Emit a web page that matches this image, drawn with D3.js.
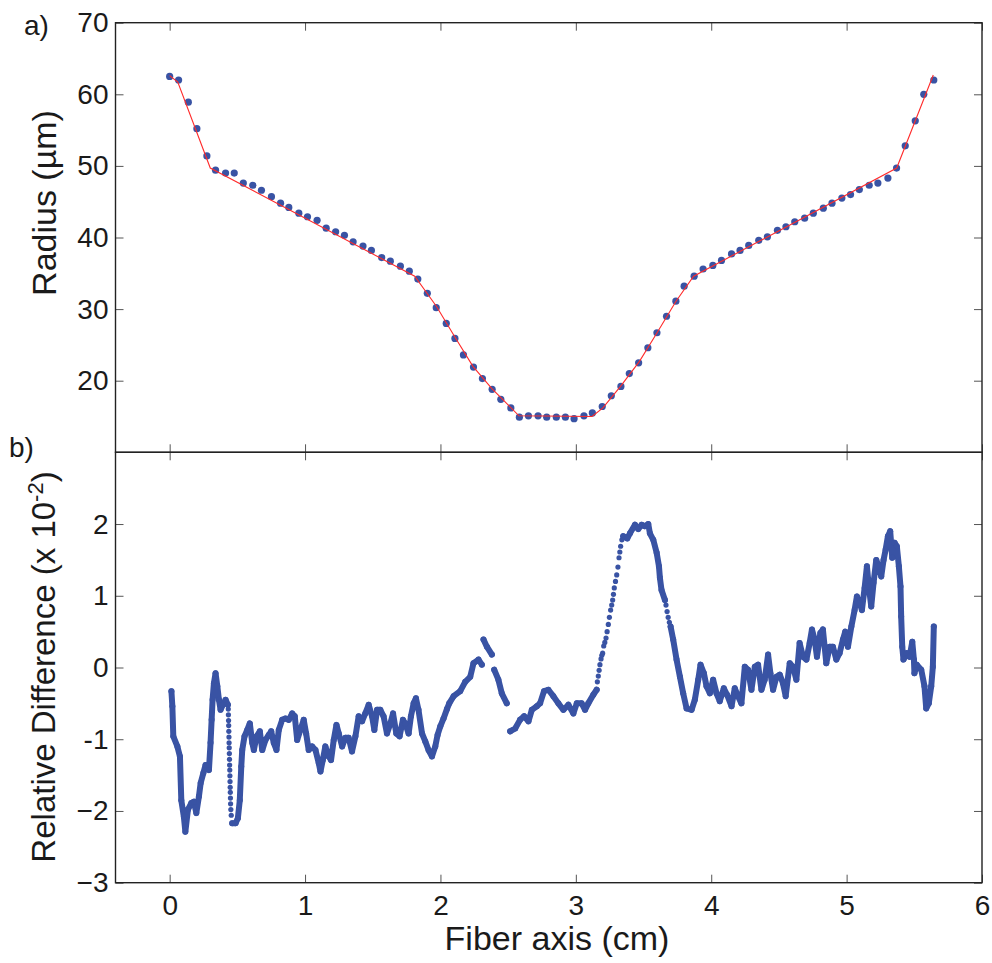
<!DOCTYPE html>
<html><head><meta charset="utf-8">
<script src="https://cdn.jsdelivr.net/npm/d3@7"></script>
<style>
html,body{margin:0;padding:0;background:#fff;}
svg{display:block;}
text{font-family:"Liberation Sans",Arial,Helvetica,sans-serif;fill:#1a1a1a;}
</style></head><body>
<svg id="chart" width="992" height="963"></svg>
<script>
// ---------- data ----------
// panel a) measured radius (dots)
const radiusX = [0.000,0.066,0.138,0.201,0.275,0.339,0.413,0.477,0.544,0.614,
  0.678,0.752,0.819,0.880,0.954,1.018,1.089,1.156,1.226,1.291,
  1.355,1.428,1.490,1.566,1.630,1.704,1.770,1.833,1.903,1.969,
  2.043,2.107,2.170,2.244,2.310,2.382,2.446,2.520,2.583,2.650,
  2.721,2.785,2.856,2.923,2.987,3.060,3.122,3.195,3.262,3.333,
  3.395,3.464,3.532,3.599,3.670,3.739,3.800,3.874,3.940,4.012,
  4.076,4.150,4.213,4.277,4.351,4.415,4.489,4.552,4.617,4.690,
  4.754,4.828,4.892,4.965,5.029,5.094,5.167,5.231,5.305,5.369,
  5.433,5.507,5.570,5.644];
const radiusV = [62.5,62.0,58.9,55.2,51.4,49.4,49.0,49.0,47.6,47.3,
  46.6,45.7,44.8,44.2,43.4,42.9,42.4,41.3,40.8,40.3,
  39.4,38.8,38.2,37.2,36.7,36.0,35.3,34.2,32.2,30.2,
  28.0,25.9,23.6,21.9,20.3,18.8,17.4,16.2,14.9,15.1,
  15.1,14.9,14.9,14.9,14.7,15.1,15.5,16.4,17.9,19.2,
  21.0,22.5,24.6,26.7,29.0,31.1,33.2,34.6,35.6,36.1,
  36.8,37.7,38.2,38.9,39.6,40.1,41.0,41.5,42.2,42.7,
  43.4,44.1,44.8,45.5,46.0,46.7,47.3,47.6,48.3,49.7,
  52.8,56.3,60.0,62.0];
// panel a) target profile (red line)
const fitX = [0,0.06,0.30,1.81,1.97,2.11,2.24,2.38,2.58,3.12,3.20,3.33,3.47,3.60,3.74,3.87,5.37,5.64];
const fitV = [62.6,61.7,49.7,34.6,30.4,26.0,22.0,18.9,15.1,15.0,16.2,19.2,22.7,26.7,31.1,34.6,49.7,62.7];

// panel b) relative difference, dense trace (NaN = break)
const diffX = [0.013,0.020,0.027,0.057,0.076,0.086,0.105,0.116,0.135,0.160,0.179,0.197,0.216,0.229,0.249,0.265,0.290,0.302,0.310,0.317,0.327,0.339,0.352,0.364,0.376,0.393,0.413,0.430,
  NaN,
  0.462,0.487,0.504,0.518,0.529,0.536,0.553,0.573,0.592,0.610,0.622,0.642,0.666,0.684,0.708,0.732,0.750,0.769,0.789,0.806,0.831,0.855,0.880,0.905,0.924,0.942,0.966,0.990,1.008,1.027,1.052,1.077,1.101,1.114,1.131,1.150,1.175,1.192,1.212,1.232,1.249,1.274,1.298,1.322,1.347,1.372,1.396,1.421,1.445,1.470,1.495,1.512,1.532,1.556,1.580,1.605,1.630,1.650,1.674,1.698,1.723,1.740,1.765,1.782,1.802,1.819,1.838,1.864,1.888,1.912,1.937,1.962,1.979,1.999,2.023,2.048,2.065,2.097,2.146,2.183,2.220,2.244,2.281,2.306,
  NaN,
  2.318,2.343,2.380,
  NaN,
  2.397,2.428,2.453,2.490,
  NaN,
  2.515,2.552,2.588,2.618,2.650,2.675,2.712,2.736,2.765,2.797,2.834,2.871,2.908,2.945,2.982,3.007,3.043,3.068,3.092,3.129,3.154,
  NaN,
  3.350,3.380,3.400,3.437,3.461,3.486,3.510,3.535,3.547,3.572,3.597,3.614,3.621,3.633,3.658,
  NaN,
  3.700,3.719,3.744,3.769,3.793,3.818,3.855,3.879,3.904,3.921,3.946,3.965,3.990,4.014,4.039,4.063,4.093,4.117,4.150,4.174,4.198,4.223,4.248,4.272,4.297,4.322,4.346,4.371,4.395,4.420,4.437,4.457,4.482,4.506,4.530,4.550,4.580,4.604,4.629,4.653,4.678,4.703,4.727,4.744,4.764,4.781,4.806,4.825,4.850,4.875,4.899,4.924,4.948,4.973,4.990,5.010,5.035,5.059,5.076,5.096,5.113,5.133,5.150,5.164,5.182,5.199,5.219,5.236,5.256,5.273,5.288,5.305,5.322,5.337,5.354,5.371,5.386,5.398,5.403,5.411,5.420,5.445,5.465,5.485,5.497,5.501,5.518,5.551,5.575,5.588,5.607,5.625,5.637,5.644];
const diffV = [-0.33,-0.54,-0.96,-1.10,-1.24,-1.85,-2.08,-2.29,-1.98,-1.89,-1.87,-2.03,-1.80,-1.61,-1.47,-1.36,-1.43,-1.05,-0.73,-0.45,-0.22,-0.08,-0.26,-0.45,-0.59,-0.52,-0.45,-0.52,
  NaN,
  -2.17,-2.17,-2.10,-1.85,-1.38,-1.15,-0.96,-0.87,-0.78,-1.05,-1.15,-0.96,-0.89,-1.15,-1.01,-0.94,-0.89,-1.05,-1.15,-0.87,-0.73,-0.71,-0.73,-0.64,-0.68,-1.01,-0.87,-0.73,-0.92,-1.15,-1.10,-1.15,-1.33,-1.45,-1.29,-1.10,-1.24,-1.29,-1.01,-0.80,-0.92,-1.10,-0.98,-0.98,-1.17,-0.96,-0.68,-0.75,-0.64,-0.52,-0.68,-0.87,-0.59,-0.59,-0.68,-0.92,-0.78,-0.64,-0.92,-0.96,-0.73,-0.78,-0.92,-0.68,-0.50,-0.43,-0.59,-0.92,-1.03,-1.15,-1.24,-1.10,-0.94,-0.82,-0.71,-0.58,-0.50,-0.40,-0.33,-0.20,-0.13,0.06,0.11,0.04,
  NaN,
  0.39,0.29,0.18,
  NaN,
  -0.03,-0.17,-0.36,-0.50,
  NaN,
  -0.89,-0.85,-0.73,-0.68,-0.75,-0.59,-0.54,-0.50,-0.33,-0.31,-0.40,-0.50,-0.59,-0.52,-0.64,-0.50,-0.50,-0.59,-0.50,-0.38,-0.31,
  NaN,
  1.83,1.80,1.87,1.99,1.93,1.99,1.97,2.00,1.87,1.78,1.60,1.41,1.25,1.08,0.94,
  NaN,
  0.57,0.39,0.11,-0.13,-0.36,-0.57,-0.59,-0.45,-0.17,0.04,-0.08,-0.26,-0.36,-0.17,-0.36,-0.47,-0.29,-0.38,-0.54,-0.29,-0.40,-0.50,0.01,-0.03,-0.31,0.01,0.04,-0.31,-0.17,0.18,-0.08,-0.31,-0.13,-0.10,-0.22,-0.40,0.06,0.01,-0.17,0.34,0.15,0.11,0.34,0.53,0.39,0.15,0.48,0.53,0.06,0.29,0.29,0.11,0.20,0.39,0.50,0.29,0.57,0.80,0.99,0.90,0.80,1.11,1.41,1.13,0.85,1.18,1.50,1.41,1.27,1.50,1.64,1.83,1.90,1.53,1.74,1.69,1.41,1.13,0.71,0.29,0.11,0.20,0.15,0.36,0.11,-0.08,0.04,-0.03,-0.26,-0.57,-0.50,-0.26,0.01,0.57];
// panel b) isolated samples on the steep parts
const sparseX = [0.433,0.434,0.435,0.436,0.437,0.438,0.439,0.440,0.441,0.442,0.443,0.444,0.445,0.446,0.447,0.448,0.449,0.450,0.452,0.455,
  3.159,3.166,3.172,3.178,3.186,3.192,3.198,3.206,3.214,3.223,3.231,3.240,3.248,3.257,3.265,3.272,3.278,3.284,3.293,3.302,3.311,3.319,3.325,3.331,3.340,
  3.666,3.674,3.682,3.691];
const sparseV = [-0.58,-0.66,-0.74,-0.81,-0.89,-0.97,-1.05,-1.12,-1.20,-1.28,-1.36,-1.43,-1.51,-1.59,-1.67,-1.74,-1.82,-1.90,-1.98,-2.06,
  -0.20,-0.12,-0.04,0.04,0.12,0.17,0.20,0.30,0.35,0.41,0.50,0.60,0.70,0.80,0.87,0.94,1.02,1.11,1.20,1.29,1.40,1.53,1.61,1.69,1.78,
  0.87,0.78,0.70,0.63];

const xTicks = [0,1,2,3,4,5,6];
const radiusTicks = [20,30,40,50,60,70];
const diffTicks = [-3,-2,-1,0,1,2];
const diffTickLabels = ["\u22123","\u22122","-1","0","1","2"];

// ---------- layout ----------
const L = 115.5, R = 982, T = 22.7, M = 452.3, B = 882.7;
const blue = "#3953a4", red = "#ff2a2a";
const svg = d3.select("#chart");

const x = d3.scaleLinear().domain([-0.4, 6]).range([L, R]);
const yA = d3.scaleLinear().domain([10, 70]).range([M, T]);
const yB = d3.scaleLinear().domain([-3, 3]).range([B, M]);

function styleAxis(g, labels) {
  g.select(".domain").remove();
  g.selectAll(".tick line").attr("stroke", "#555").attr("stroke-width", 1);
  g.selectAll(".tick text").style("font-size", "28px").attr("fill", "#1a1a1a");
  if (!labels) g.selectAll(".tick text").remove();
}
const TK = 8;
const fmt = d3.format("d");
// panel a axes
svg.append("g").attr("transform", `translate(${L},0)`)
  .call(d3.axisLeft(yA).tickValues(radiusTicks).tickFormat(fmt).tickSize(-TK).tickPadding(7))
  .call(g => styleAxis(g, true));
svg.append("g").attr("transform", `translate(${R},0)`)
  .call(d3.axisRight(yA).tickValues(radiusTicks).tickSize(-TK))
  .call(g => styleAxis(g, false));
svg.append("g").attr("transform", `translate(0,${T})`)
  .call(d3.axisTop(x).tickValues(xTicks).tickSize(-TK))
  .call(g => styleAxis(g, false));
svg.append("g").attr("transform", `translate(0,${M})`)
  .call(d3.axisBottom(x).tickValues(xTicks).tickSize(-TK))
  .call(g => styleAxis(g, false));
// panel b axes
svg.append("g").attr("transform", `translate(${L},0)`)
  .call(d3.axisLeft(yB).tickValues(diffTicks).tickFormat((d, i) => diffTickLabels[i]).tickSize(-TK).tickPadding(7))
  .call(g => styleAxis(g, true));
svg.append("g").attr("transform", `translate(${R},0)`)
  .call(d3.axisRight(yB).tickValues(diffTicks).tickSize(-TK))
  .call(g => styleAxis(g, false));
svg.append("g").attr("transform", `translate(0,${M})`)
  .call(d3.axisTop(x).tickValues(xTicks).tickSize(-TK))
  .call(g => styleAxis(g, false));
svg.append("g").attr("transform", `translate(0,${B})`)
  .call(d3.axisBottom(x).tickValues(xTicks).tickFormat(fmt).tickSize(-TK).tickPadding(12))
  .call(g => styleAxis(g, true));

// frames
svg.append("rect").attr("x", L).attr("y", T).attr("width", R - L).attr("height", M - T)
  .attr("fill", "none").attr("stroke", "#222").attr("stroke-width", 1.4);
svg.append("rect").attr("x", L).attr("y", M).attr("width", R - L).attr("height", B - M)
  .attr("fill", "none").attr("stroke", "#222").attr("stroke-width", 1.4);

// panel a marks
const radius = radiusX.map((d, i) => ({x: d, v: radiusV[i]}));
const fit = fitX.map((d, i) => ({x: d, v: fitV[i]}));
svg.append("g").selectAll("circle").data(radius).join("circle")
  .attr("cx", d => x(d.x)).attr("cy", d => yA(d.v)).attr("r", 3.6).attr("fill", blue);
svg.append("path").datum(fit)
  .attr("d", d3.line().x(d => x(d.x)).y(d => yA(d.v)))
  .attr("fill", "none").attr("stroke", red).attr("stroke-width", 1.1);

// panel b marks
const diff = diffX.map((d, i) => ({x: d, v: diffV[i]}));
svg.append("path").datum(diff)
  .attr("d", d3.line().defined(d => !isNaN(d.v)).x(d => x(d.x)).y(d => yB(d.v)))
  .attr("fill", "none").attr("stroke", blue).attr("stroke-width", 6)
  .attr("stroke-linejoin", "round").attr("stroke-linecap", "round");
svg.append("g").selectAll("circle").data(diff.filter(d => !isNaN(d.v))).join("circle")
  .attr("cx", d => x(d.x)).attr("cy", d => yB(d.v)).attr("r", 3).attr("fill", blue);
const sparse = sparseX.map((d, i) => ({x: d, v: sparseV[i]}));
svg.append("g").selectAll("circle").data(sparse).join("circle")
  .attr("cx", d => x(d.x)).attr("cy", d => yB(d.v)).attr("r", 2.6).attr("fill", blue);

// labels
svg.append("text").attr("x", 24).attr("y", 35).style("font-size", "28px").text("a)");
svg.append("text").attr("x", 9).attr("y", 457).style("font-size", "28px").text("b)");
svg.append("text").attr("transform", "translate(56,203) rotate(-90)")
  .attr("text-anchor", "middle").style("font-size", "34px").text("Radius (µm)");
const rl = svg.append("text").attr("transform", "translate(55,667) rotate(-90)")
  .attr("text-anchor", "middle").style("font-size", "33px");
rl.append("tspan").text("Relative Difference (x 10");
rl.append("tspan").attr("dy", -12).style("font-size", "22px").text("-2");
rl.append("tspan").attr("dy", 12).text(")");
svg.append("text").attr("x", 557).attr("y", 950).attr("text-anchor", "middle")
  .style("font-size", "34px").text("Fiber axis (cm)");
</script>
</body></html>
